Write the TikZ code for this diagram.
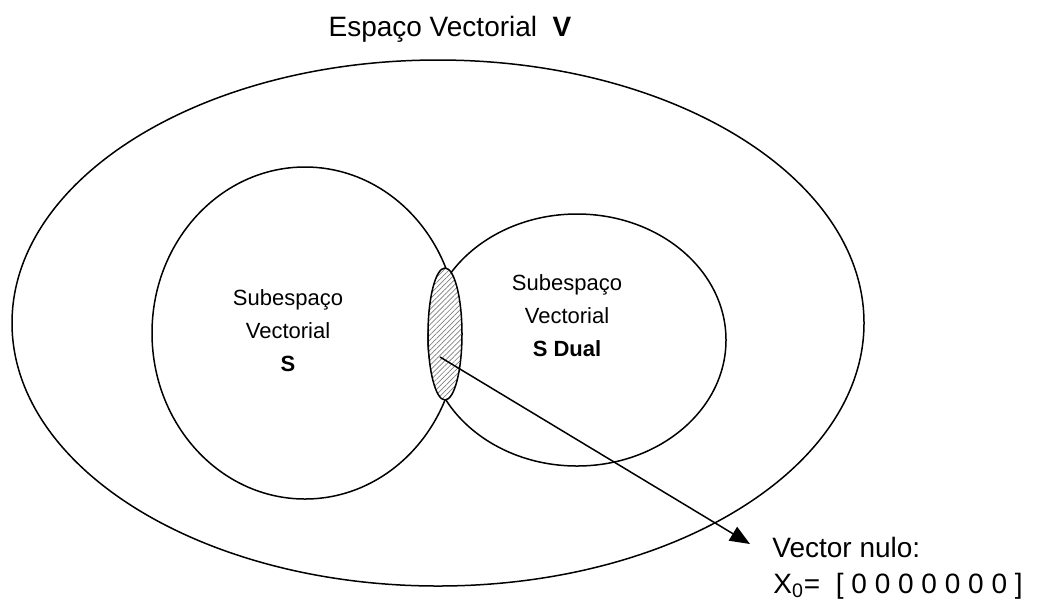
\documentclass[tikz,border=0pt]{standalone}
\usepackage{fontspec}
\setmainfont{Liberation Sans}
\usetikzlibrary{arrows.meta,patterns.meta}

\begin{document}
\begin{tikzpicture}[x=0.5pt,y=-0.5pt,
    every node/.style={font=\fontsize{11}{16.5}\selectfont, align=center, inner sep=0pt},
    grande/.style={font=\fontsize{14}{18}\selectfont},
    contorno/.style={line width=0.75pt},
    hachura/.style={contorno, preaction={fill=white}, pattern={Lines[angle=45,distance=1.8pt,line width=0.35pt]}, pattern color=gray}]
    \useasboundingbox (0,0) rectangle (1043,607);

    % espaco e subespacos
    \draw[contorno] (438,323) ellipse (426 and 263);
    \draw[contorno] (305,333) ellipse (153 and 166);
    \draw[contorno] (577,340) ellipse (149 and 126);
    \draw[hachura] (445,334) ellipse (17 and 66);

    \node[grande, anchor=base] (tituloV) at (450,36) {Espaço Vectorial \ \textbf{V}};
    \node (subS) at (288,331) {Subespaço\\Vectorial\\\textbf{S}};
    \node (subSD) at (567,316) {Subespaço\\Vectorial\\\textbf{S Dual}};
    \node[grande, anchor=base west] (nulo) at (772,557) {Vector nulo:};
    \node[grande, anchor=base west] (nuloX) at (773,593) {X\textsubscript{0}=\ \ [ 0 0 0 0 0 0 0 ]};

    % vector nulo
    \coordinate (zero) at (440,357);
    \coordinate (ponta) at (750,544);
    \draw[contorno, -{Triangle[length=10pt,width=8pt]}] (zero) -- (ponta);
\end{tikzpicture}
\end{document}
